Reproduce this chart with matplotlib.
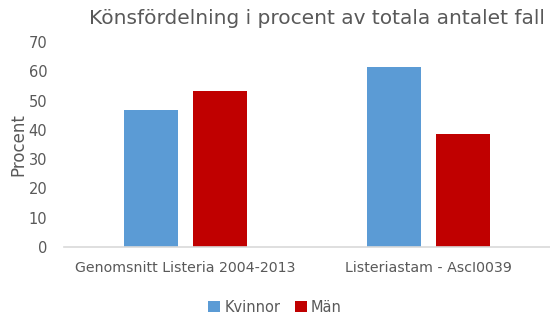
import matplotlib.pyplot as plt
import numpy as np

categories = ["Genomsnitt Listeria 2004-2013", "Listeriastam - AscI0039"]
kvinnor = [46.6, 61.3]
man = [53.4, 38.7]
yticks = [0, 10, 20, 30, 40, 50, 60, 70]

text_color = '#595959'

fig = plt.figure(figsize=(5.5, 3.25), dpi=100)
ax = fig.add_axes([0.1164, 0.24, 0.8836, 0.631])

x = np.arange(len(categories))
width = 0.222
ax.bar(x - 0.142, kvinnor, width, color='#5B9BD5', label='Kvinnor')
ax.bar(x + 0.142, man, width, color='#C00000', label='Män')

ax.set_xlim(-0.5, 1.5)
ax.set_ylim(0, 70)
ax.set_yticks(yticks)
ax.set_xticks(x)
ax.set_xticklabels(categories, fontsize=10.2, color=text_color)
ax.tick_params(axis='y', labelsize=10.5, labelcolor=text_color, length=0, pad=12)
ax.tick_params(axis='x', length=0, pad=10)
for s in ['top', 'right', 'left']:
    ax.spines[s].set_visible(False)
ax.spines['bottom'].set_color('#d9d9d9')
ax.spines['bottom'].set_linewidth(1.2)

ax.set_ylabel('Procent', fontsize=12, color=text_color, labelpad=1)
fig.text(0.577, 0.943, 'Könsfördelning i procent av totala antalet fall',
         ha='center', va='center', fontsize=14.5, color=text_color)

fig.legend(loc='center', bbox_to_anchor=(0.5, 0.055), ncol=2, frameon=False,
           fontsize=10.5, labelcolor=text_color, handlelength=0.8, handleheight=0.8,
           handletextpad=0.3, columnspacing=1.0)

plt.savefig('out.png', dpi=100)
